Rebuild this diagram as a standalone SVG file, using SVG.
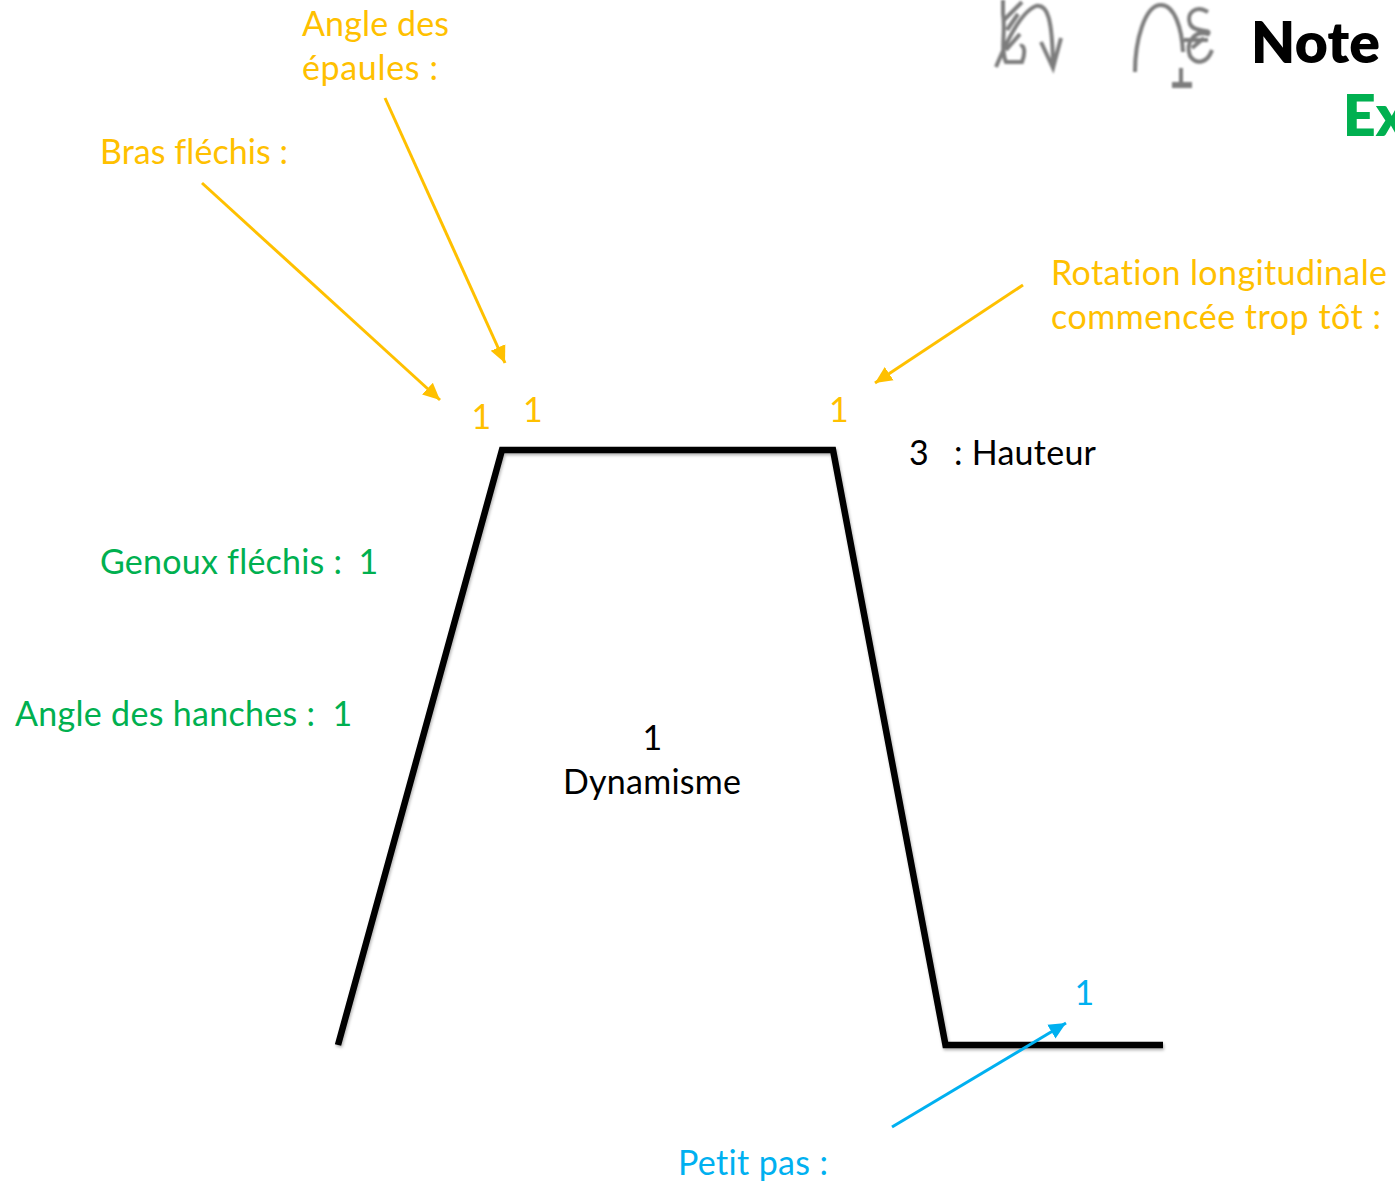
<svg xmlns="http://www.w3.org/2000/svg" width="1395" height="1182" viewBox="0 0 1395 1182">
<style>
text{font-family:Lato,"Open Sans","Liberation Sans",sans-serif;font-size:34px;font-variant-ligatures:none}
.y{fill:#ffc000}.g{fill:#00b050}.b{fill:#00b0f0}.k{fill:#000}
.big{font-size:57px;font-weight:800}
.prof{fill:none;stroke:#000;stroke-width:6.5;stroke-linejoin:miter;filter:url(#sh)}
.icon{fill:none;stroke:#7d7d7d;stroke-width:4;filter:url(#bl)}
.ay{stroke:#ffc000;stroke-width:3;fill:none}
.ab{stroke:#00b0f0;stroke-width:3;fill:none}
</style>
<defs>
<filter id="sh" x="-5%" y="-5%" width="110%" height="110%"><feDropShadow dx="1" dy="2" stdDeviation="1.5" flood-color="#000" flood-opacity=".3"/></filter>
<filter id="bl"><feGaussianBlur stdDeviation="1.3"/></filter>
<marker id="my" markerUnits="userSpaceOnUse" markerWidth="20" markerHeight="18" refX="17" refY="9" orient="auto"><path d="M0 1L17 9L0 17Z" fill="#ffc000"/></marker>
<marker id="mb" markerUnits="userSpaceOnUse" markerWidth="20" markerHeight="18" refX="17" refY="9" orient="auto"><path d="M0 1L17 9L0 17Z" fill="#00b0f0"/></marker>
</defs>
<g id="icon-1"><path class="icon" d="M996 67C1005 45 1020 12 1036 6C1048 4 1052 20 1053 62M1041 42L1053 68L1061 38M1003 0V14C1006 30 1000 50 1006 62H1022C1026 52 1024 44 1020 46M1004 20L1022 2M1007 30L1018 14M1006 50L1020 34"/></g>
<g id="icon-2"><path class="icon" d="M1135 72C1135 40 1145 6 1160 5C1175 4 1182 30 1183 52M1208 12C1195 4 1186 14 1190 24C1195 34 1212 28 1208 34C1195 30 1185 42 1190 56C1197 66 1208 62 1212 50M1184 40H1208M1192 48L1204 38M1181 68V82M1172 84H1192M1172 86H1192"/></g>
<g id="title-note"><text x="1251" y="63" class="big k" textLength="129">Note</text></g>
<g id="title-ex"><text x="1343" y="136" class="big g">Ex</text></g>
<g id="profile"><path class="prof" d="M338 1045L502 450H833L945.500 1045H1163"/></g>
<g id="label-epaules"><text x="302" y="35.500" class="y" textLength="147">Angle des</text><text x="302" y="79.500" class="y" textLength="136">épaules :</text></g>
<g id="label-bras"><text x="100" y="163.500" class="y" textLength="188">Bras fléchis :</text></g>
<g id="label-rotation"><text x="1051" y="284.500" class="y" textLength="336">Rotation longitudinale</text><text x="1051" y="328.500" class="y" textLength="330">commencée trop tôt :</text></g>
<g id="score-bras"><text x="471.500" y="428.500" class="y">1</text></g>
<g id="score-epaules"><text x="523" y="421.500" class="y">1</text></g>
<g id="score-rotation"><text x="829" y="421.500" class="y">1</text></g>
<g id="label-hauteur"><text x="909" y="464.500" class="k">3</text><text x="954" y="464.500" class="k" textLength="142">: Hauteur</text></g>
<g id="label-genoux"><text x="100" y="573.500" class="g" textLength="242">Genoux fléchis :</text><text x="358.500" y="573.500" class="g">1</text></g>
<g id="label-hanches"><text x="15" y="725.500" class="g" textLength="300">Angle des hanches :</text><text x="332.500" y="725.500" class="g">1</text></g>
<g id="label-dynamisme"><text x="642.500" y="749.500" class="k">1</text><text x="563" y="793.500" class="k" textLength="178">Dynamisme</text></g>
<g id="score-pas"><text x="1074.500" y="1004.500" class="b">1</text></g>
<g id="label-pas"><text x="678" y="1174.500" class="b" textLength="150">Petit pas :</text></g>
<g id="connectors">
<line class="ay" x1="202" y1="183" x2="440" y2="400" marker-end="url(#my)"/>
<line class="ay" x1="385" y1="98" x2="505" y2="363" marker-end="url(#my)"/>
<line class="ay" x1="1023" y1="285" x2="875" y2="383" marker-end="url(#my)"/>
<line class="ab" x1="892" y1="1127" x2="1066" y2="1023" marker-end="url(#mb)"/>
</g>
</svg>
